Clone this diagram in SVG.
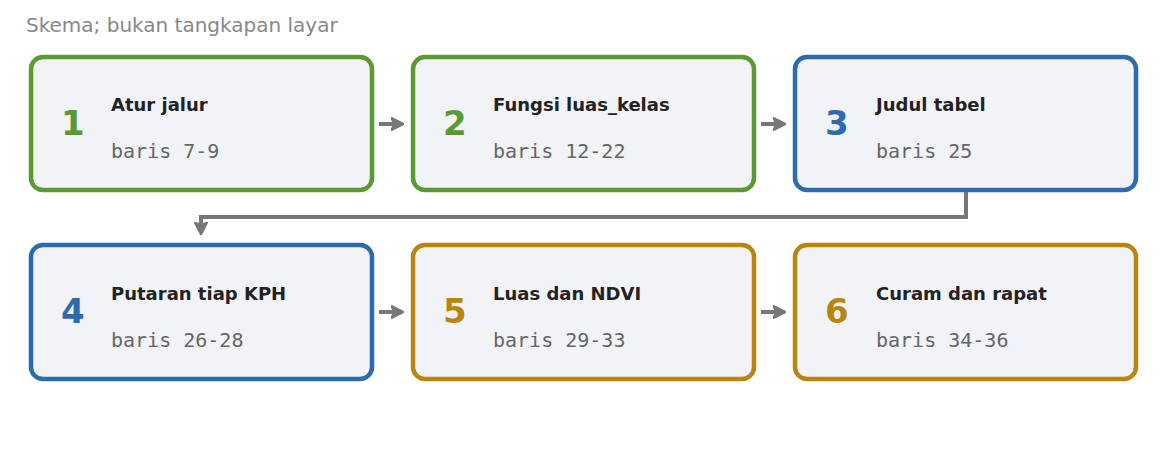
<svg xmlns="http://www.w3.org/2000/svg" width="1167" height="455" viewBox="0 0 1167 455">
<defs>
<style>
.box{fill:#f2f3f7;stroke-width:4.5}
.g{stroke:#5a9a32}.b{stroke:#2d6bb0}.y{stroke:#b8860f}
.num{font-family:"DejaVu Sans",sans-serif;font-weight:bold;font-size:34px}
.ng{fill:#5a9a32}.nb{fill:#2d6bb0}.ny{fill:#b8860f}
.t{font-family:"DejaVu Sans",sans-serif;font-weight:bold;font-size:18px;fill:#222}
.m{font-family:"DejaVu Sans Mono",monospace;font-size:20px;fill:#666}
.c{fill:none;stroke:#777;stroke-width:4}
</style>
<marker id="ah" viewBox="0 0 10 10" refX="6" refY="5" markerWidth="3.4" markerHeight="3.4" orient="auto" markerUnits="strokeWidth">
<path d="M0,0 L10,5 L0,10 L2,5 Z" fill="#777" stroke="#777" stroke-width="1" stroke-linejoin="round"/>
</marker>
</defs>
<rect width="1167" height="455" fill="#fff"/>
<text x="26" y="32" font-family="DejaVu Sans,sans-serif" font-size="20" fill="#888">Skema; bukan tangkapan layar</text>
<g id="connectors">
<path class="c" d="M379,124 H399" marker-end="url(#ah)"/>
<path class="c" d="M761,124 H781" marker-end="url(#ah)"/>
<path class="c" d="M966,192 V217 H201 V230" marker-end="url(#ah)"/>
<path class="c" d="M379,312 H399" marker-end="url(#ah)"/>
<path class="c" d="M761,312 H781" marker-end="url(#ah)"/>
</g>
<g id="node1"><rect class="box g" x="31" y="57" width="341" height="133" rx="12"/><text class="num ng" x="61" y="135">1</text><text class="t" x="111" y="111">Atur jalur</text><text class="m" x="111" y="158">baris 7-9</text></g>
<g id="node2"><rect class="box g" x="413" y="57" width="341" height="133" rx="12"/><text class="num ng" x="443" y="135">2</text><text class="t" x="493" y="111">Fungsi luas_kelas</text><text class="m" x="493" y="158">baris 12-22</text></g>
<g id="node3"><rect class="box b" x="795" y="57" width="341" height="133" rx="12"/><text class="num nb" x="825" y="135">3</text><text class="t" x="876" y="111">Judul tabel</text><text class="m" x="876" y="158">baris 25</text></g>
<g id="node4"><rect class="box b" x="31" y="245" width="341" height="134" rx="12"/><text class="num nb" x="61" y="323">4</text><text class="t" x="111" y="300">Putaran tiap KPH</text><text class="m" x="111" y="347">baris 26-28</text></g>
<g id="node5"><rect class="box y" x="413" y="245" width="341" height="134" rx="12"/><text class="num ny" x="443" y="323">5</text><text class="t" x="493" y="300">Luas dan NDVI</text><text class="m" x="493" y="347">baris 29-33</text></g>
<g id="node6"><rect class="box y" x="795" y="245" width="341" height="134" rx="12"/><text class="num ny" x="825" y="323">6</text><text class="t" x="876" y="300">Curam dan rapat</text><text class="m" x="876" y="347">baris 34-36</text></g>
</svg>
